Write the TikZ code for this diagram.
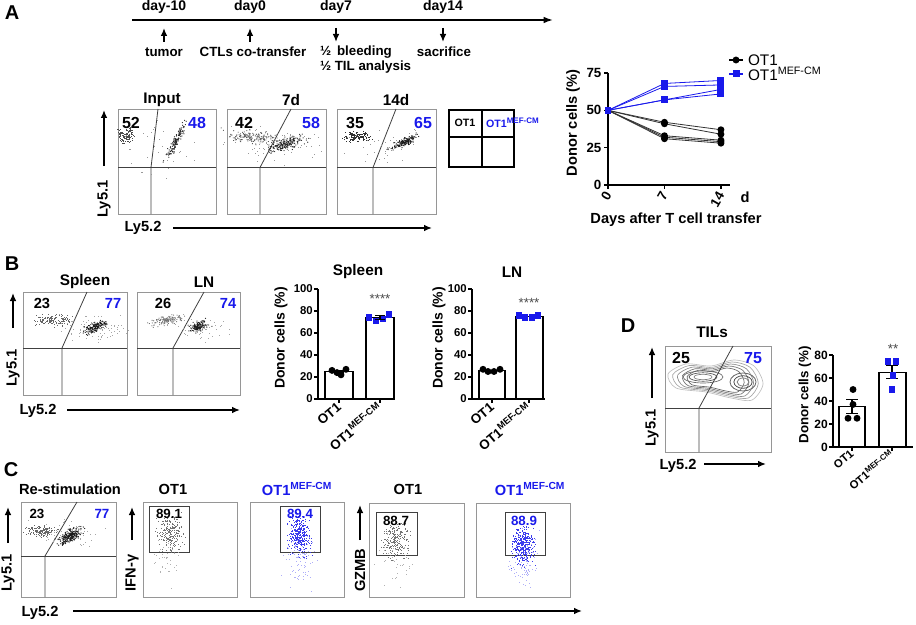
\documentclass[tikz,border=0pt]{standalone}
\usepackage{fontspec}
\setmainfont{Liberation Sans}
\usetikzlibrary{arrows.meta}

\definecolor{cmblue}{RGB}{25,25,235}
\definecolor{boxgray}{RGB}{150,150,150}

\newcommand\fsz[1]{\fontsize{#1}{#1}\selectfont\bfseries}
\newcommand\mefcm{OT1\textsuperscript{MEF-CM}}

% random dot cloud: cx, cy, sx, sy, angle, count, colour
\newcommand\dotcloud[7]{%
  \begin{scope}[shift={(#1,#2)}, rotate=#5]
    \foreach \k in {1,...,#6}{
      \pgfmathsetmacro\du{(rand+rand+rand)*#3}
      \pgfmathsetmacro\dv{(rand+rand+rand)*#4}
      \fill[#7] (\du,\dv) rectangle ++(0.9,0.9);
    }
  \end{scope}}

\tikzset{
  fbox/.style={draw=boxgray, line width=0.6pt},
  gate/.style={draw=black!75, line width=0.6pt},
  axarr/.style={line width=1.1pt, -{Latex[length=6pt, width=5pt]}},
  axis/.style={line width=0.9pt},
  bar/.style={draw, line width=1pt, fill=white},
  panel/.style={font=\fsz{15}},
  ttl/.style={font=\fsz{11.5}},
  num/.style={font=\fsz{12}},
  cnum/.style={font=\fsz{10}},
  tick/.style={font=\fsz{8.5}},
  ylbl/.style={font=\fsz{10.5}, rotate=90},
  barlbl/.style={font=\fsz{10}, rotate=40, anchor=east},
}

\begin{document}
\begin{tikzpicture}[x=0.75pt, y=-0.75pt, every node/.style={inner sep=0pt, outer sep=0pt}]
\pgfmathsetseed{4217}
\useasboundingbox (0,0) rectangle (916,624);

% ===================== Panel A =====================
\node[panel] (labA) at (12,13) {A};

% --- time line ---
\coordinate (tl0) at (132,20);
\coordinate (tl1) at (553,20);
\draw[line width=1.3pt, -{Latex[length=7pt, width=5pt]}] (tl0) -- (tl1);
\foreach \x/\d [count=\i] in {164/day-10, 250/day0, 336/day7, 443/day14}
  \node[font=\fsz{10.5}] (day\i) at (\x,7) {\d};
\draw[axarr] (164,42) -- (164,28);
\draw[axarr] (250,42) -- (250,28);
\draw[axarr] (336,28) -- (336,42);
\draw[axarr] (443,28) -- (443,42);
\node[font=\fsz{10}] (tumor) at (164,52) {tumor};
\node[font=\fsz{10}] (ctl) at (253,52) {CTLs co-transfer};
\node[font=\fsz{10}, anchor=west] (bleed) at (320,52) {½ \,bleeding};
\node[font=\fsz{10}, anchor=west] (til) at (320,67) {½ TIL analysis};
\node[font=\fsz{10}] (sac) at (444,52) {sacrifice};

% --- flow plots ---
\foreach \xa/\xb/\xv/\xt in {118/216/151/158, 227/326/260/291, 337/436/373/396}{
  \draw[fbox] (\xa,109) rectangle (\xb,214);
  \draw[gate] (\xa,167.5) -- (\xb,167.5);
  \draw[gate] (\xv,214) -- (\xv,167.5) -- (\xt,109);
}
% Input
\dotcloud{126}{135}{4}{4}{0}{130}{black!70}
\dotcloud{175}{142}{9}{1.8}{62}{140}{black!85}
\dotcloud{160}{150}{18}{14}{0}{30}{black!40}
% 7d
\dotcloud{252}{137}{12}{3}{-5}{170}{black!65}
\dotcloud{286}{143}{9}{2.7}{18}{220}{black!85}
\dotcloud{275}{145}{22}{8}{0}{60}{black!40}
% 14d
\dotcloud{357}{136}{6}{2.2}{0}{140}{black!80}
\dotcloud{404}{142}{7}{1.8}{25}{170}{black!90}
\dotcloud{385}{145}{18}{9}{0}{40}{black!40}

\node[ttl] (inA) at (162,100) {Input};
\node[ttl] (d7A) at (291,100) {7d};
\node[ttl] (d14A) at (396,100) {14d};
\node[num] at (131,123) {52};
\node[num, cmblue] at (197,123) {48};
\node[num] at (244,123) {42};
\node[num, cmblue] at (311,123) {58};
\node[num] at (355,123) {35};
\node[num, cmblue] at (423,123) {65};

% axes of the flow plots
\draw[axarr] (104,166) -- (104,110);
\node[ylbl, font=\fsz{11}] (ly51A) at (104,199) {Ly5.1};
\node[font=\fsz{11}] (ly52A) at (143,228) {Ly5.2};
\draw[axarr] (173,228) -- (432,228);

% --- legend grid ---
\draw[line width=1pt] (449,110) rectangle (514,167);
\draw[line width=1pt] (482,110) -- (482,167) (449,137) -- (514,137);
\node[font=\fsz{8}] (gOT1) at (465,123) {OT1};
\node[font=\fsz{8}, cmblue, anchor=west] (gMEF) at (486,123) {\mefcm};

% --- donor cells over time ---
\begin{scope}[shift={(608,185)}, x=6.05pt, y=1.12pt]
  \draw[axis] (0,75) -- (0,0) -- (15.1,0);
  \foreach \v in {0,25,50,75}{
    \draw[axis] (0,\v) -- ++(-3pt,0);
    \node[font=\fsz{10}, anchor=east] at ([xshift=-5pt]0,\v) {\v};
  }
  \foreach \d in {0,7,14}{
    \draw[axis] (\d,0) -- ++(0,-3pt);
    \node[font=\fsz{10}, rotate=60, anchor=east] at ([yshift=-6pt]\d,0) {\d};
  }
  \foreach \a/\b in {42/37, 41/34, 33/30, 32/29, 31/28}{
    \draw[black!80, line width=0.6pt] (0,50) -- (7,\a) -- (14,\b);
    \fill (7,\a) circle (2.6pt) (14,\b) circle (2.6pt);
  }
  \foreach \a/\b in {68/70, 66/67, 57/64, 57/61}{
    \draw[cmblue, line width=0.6pt] (0,50) -- (7,\a) -- (14,\b);
    \fill[cmblue] ([shift={(-2.6pt,-2.6pt)}]7,\a) rectangle ++(5.2pt,5.2pt);
    \fill[cmblue] ([shift={(-2.6pt,-2.6pt)}]14,\b) rectangle ++(5.2pt,5.2pt);
  }
  \fill[cmblue] ([shift={(-2.6pt,-2.6pt)}]0,50) rectangle ++(5.2pt,5.2pt);
\end{scope}
\node[font=\fsz{11}] (dunit) at (745,197) {d};
\node[font=\fsz{11}] (dayslbl) at (676,220) {Days after T cell transfer};
\node[ylbl, font=\fsz{11}] (donA) at (573,123) {Donor cells (\%)};
% legend
\draw[line width=0.8pt] (729,60) -- (743,60);
\fill (736,60) circle (2.6pt);
\draw[cmblue, line width=0.8pt] (729,74) -- (743,74);
\fill[cmblue] (732.5,70.5) rectangle (739.5,77.5);
\node[font=\fontsize{11.5}{12}\selectfont, anchor=west] (legOT1) at (748,60) {OT1};
\node[font=\fontsize{11.5}{12}\selectfont, anchor=west] (legMEF) at (748,74) {\mefcm};

% ===================== Panel B =====================
\node[panel] (labB) at (12,264) {B};
\foreach \xa/\xb/\xv/\xt in {23/127/62/87, 137/240/173/204}{
  \draw[fbox] (\xa,292) rectangle (\xb,395);
  \draw[gate] (\xa,348) -- (\xb,348);
  \draw[gate] (\xv,395) -- (\xv,348) -- (\xt,292);
}
\dotcloud{52}{320}{9}{2.5}{0}{140}{black!60}
\dotcloud{95}{327}{5.5}{2.2}{22}{180}{black!90}
\dotcloud{95}{328}{18}{7}{0}{90}{black!35}
\dotcloud{167}{320}{8}{2}{8}{130}{black!55}
\dotcloud{198}{326}{4.5}{2.2}{22}{150}{black!90}
\dotcloud{200}{327}{14}{6}{0}{60}{black!35}
\node[ttl] (spB) at (85,282) {Spleen};
\node[ttl] (lnB) at (204,282) {LN};
\node[num, font=\fsz{11}] at (42,303) {23};
\node[num, font=\fsz{11}, cmblue] at (113,303) {77};
\node[num, font=\fsz{11}] at (163,303) {26};
\node[num, font=\fsz{11}, cmblue] at (228,303) {74};
\draw[axarr] (13,328) -- (13,293);
\node[ylbl, font=\fsz{11}] (ly51B) at (13,368) {Ly5.1};
\node[font=\fsz{11}] (ly52B) at (38,411) {Ly5.2};
\draw[axarr] (67,410) -- (240,410);

% --- spleen bars ---
\node[ttl] (spT) at (358,272) {Spleen};
\node[ylbl] (donSp) at (281,338) {Donor cells (\%)};
\begin{scope}[shift={(318,399)}, y=0.825pt]
  \draw[axis] (0,100) -- (0,0) -- (77,0);
  \foreach \v in {0,20,...,100}{
    \draw[axis] (0,\v) -- ++(-3pt,0);
    \node[tick, anchor=east] at ([xshift=-4pt]0,\v) {\v};
  }
  \draw[bar] (7,0) rectangle (35,25);
  \draw[bar] (48,0) rectangle (76,74);
  \draw[axis] (21,0) -- ++(0,-3pt) (62,0) -- ++(0,-3pt);
  \foreach \x/\v in {14/26, 19/24, 23/22, 28/27} \fill (\x,\v) circle (2.6pt);
  \foreach \x/\v in {51/74, 58/71, 65/73, 71/77}
    \fill[cmblue] ([shift={(-2.4pt,-2.4pt)}]\x,\v) rectangle ++(4.8pt,4.8pt);
  \draw[line width=0.8pt] (16,24) -- (26,24) (21,23) -- (21,26) (16,26) -- (26,26);
  \draw[line width=0.8pt] (57,72.5) -- (67,72.5) (62,72.5) -- (62,75.5) (57,75.5) -- (67,75.5);
  \node[font=\fontsize{10}{10}\selectfont, black!70] at (62,91) {****};
  \node[barlbl] at ([yshift=-5pt]21,0) {OT1};
  \node[barlbl] at ([yshift=-5pt]62,0) {\mefcm};
\end{scope}

% --- LN bars ---
\node[ttl] (lnT) at (512,272) {LN};
\node[ylbl] (donLN) at (439,338) {Donor cells (\%)};
\begin{scope}[shift={(472,399)}, y=0.825pt]
  \draw[axis] (0,100) -- (0,0) -- (73,0);
  \foreach \v in {0,20,...,100}{
    \draw[axis] (0,\v) -- ++(-3pt,0);
    \node[tick, anchor=east] at ([xshift=-4pt]0,\v) {\v};
  }
  \draw[bar] (7,0) rectangle (33,26);
  \draw[bar] (44,0) rectangle (71,75);
  \draw[axis] (20,0) -- ++(0,-3pt) (57,0) -- ++(0,-3pt);
  \foreach \x/\v in {11/27, 16/25, 22/25, 28/27} \fill (\x,\v) circle (2.6pt);
  \foreach \x/\v in {47/76, 53/74, 60/74, 66/76}
    \fill[cmblue] ([shift={(-2.4pt,-2.4pt)}]\x,\v) rectangle ++(4.8pt,4.8pt);
  \node[font=\fontsize{10}{10}\selectfont, black!70] at (57,87) {****};
  \node[barlbl] at ([yshift=-5pt]20,0) {OT1};
  \node[barlbl] at ([yshift=-5pt]57,0) {\mefcm};
\end{scope}

% ===================== Panel C =====================
\node[panel] (labC) at (11,470) {C};
% re-stimulation
\draw[fbox] (21,502) rectangle (116,597);
\draw[gate] (21,556) -- (116,556);
\draw[gate] (45,597) -- (45,556) -- (77,502);
\dotcloud{40}{531}{7}{2.5}{0}{160}{black!60}
\dotcloud{70}{535}{6}{2.6}{30}{260}{black!90}
\dotcloud{65}{535}{16}{7}{0}{60}{black!35}
\node[ttl, font=\fsz{11}] (rest) at (70,489) {Re-stimulation};
\node[cnum] at (37,514) {23};
\node[cnum, cmblue] at (102,514) {77};
\draw[axarr] (8,543) -- (8,507);
\node[ylbl, font=\fsz{11}] (ly51C) at (8,573) {Ly5.1};

% IFN-gamma
\draw[axarr] (132,540) -- (132,507);
\node[ylbl, font=\fsz{11}] (ifn) at (132,573) {IFN-γ};
\draw[fbox] (143,502) rectangle (237,597);
\draw[gate] (149,506) rectangle (189,552);
\dotcloud{170}{533}{6}{9}{0}{220}{black!55}
\dotcloud{168}{560}{7}{12}{0}{40}{black!30}
\node[cnum] at (169,514) {89.1};
\node[ttl, font=\fsz{11}] (ifnOT1) at (173,489) {OT1};
\draw[fbox] (250,502) rectangle (344,597);
\draw[gate] (280,506) rectangle (320,552);
\dotcloud{299}{535}{5}{9}{0}{380}{cmblue!85}
\dotcloud{299}{560}{7}{13}{0}{90}{cmblue!35}
\node[cnum, cmblue] at (300,514) {89.4};
\node[ttl, font=\fsz{11}, cmblue] (ifnMEF) at (297,489) {\mefcm};

% GZMB
\draw[axarr] (360,540) -- (360,505);
\node[ylbl, font=\fsz{11}] (gzmb) at (360,570) {GZMB};
\draw[fbox] (369,503) rectangle (464,597);
\draw[gate] (376,512) rectangle (417,555);
\dotcloud{396}{540}{6}{8}{0}{220}{black!55}
\dotcloud{395}{560}{8}{12}{0}{40}{black!30}
\node[cnum] at (396,521) {88.7};
\node[ttl, font=\fsz{11}] (gzOT1) at (408,489) {OT1};
\draw[fbox] (476,503) rectangle (570,597);
\draw[gate] (505,512) rectangle (545,555);
\dotcloud{523}{545}{5}{9}{0}{380}{cmblue!85}
\dotcloud{523}{560}{7}{12}{0}{90}{cmblue!35}
\node[cnum, cmblue] at (524,521) {88.9};
\node[ttl, font=\fsz{11}, cmblue] (gzMEF) at (530,489) {\mefcm};

\node[font=\fsz{11}] (ly52C) at (40,613) {Ly5.2};
\draw[axarr] (73,611) -- (582,611);

% ===================== Panel D =====================
\node[panel] (labD) at (628,326) {D};
\node[ttl] (tils) at (712,332) {TILs};
\draw[fbox] (665,346) rectangle (771,452);
\begin{scope}[shift={(716,380)}]
  \foreach \s/\c in {1.0/black!25, 0.9/black!35, 0.8/black!45, 0.7/black!55, 0.6/black!60}
    \draw[\c, line width=0.5pt, scale=\s] plot[smooth cycle] coordinates
      {(-48,-6) (-30,-16) (-5,-14) (18,-20) (38,-14) (47,4) (36,20) (15,18) (-10,12) (-40,8)};
\end{scope}
\foreach \r/\c in {1/black!60, 0.7/black!70, 0.45/black!50}{
  \draw[\c, line width=0.5pt] (703,377) ellipse ({20*\r} and {6*\r});
  \draw[\c, line width=0.6pt] (743,382) ellipse ({13*\r} and {9*\r});
}
\draw[gate] (665,408) -- (771,408);
\draw[gate] (699,452) -- (699,408) -- (733,346);
\node[num] at (681,358) {25};
\node[num, cmblue] at (753,358) {75};
\draw[axarr] (652,398) -- (652,347);
\node[ylbl, font=\fsz{11}] (ly51D) at (652,428) {Ly5.1};
\node[font=\fsz{11}] (ly52D) at (678,466) {Ly5.2};
\draw[axarr] (704,464) -- (766,464);

% --- TIL bars ---
\node[ylbl, font=\fsz{10}] (donD) at (805,395) {Donor cells (\%)};
\begin{scope}[shift={(833,447)}, y=0.8625pt]
  \draw[axis] (0,80) -- (0,0) -- (80,0);
  \foreach \v in {0,20,...,80}{
    \draw[axis] (0,\v) -- ++(-3pt,0);
    \node[tick, font=\fsz{9}, anchor=east] at ([xshift=-4pt]0,\v) {\v};
  }
  \draw[bar] (6,0) rectangle (32,35);
  \draw[bar] (46,0) rectangle (73,65);
  \draw[axis] (19,0) -- ++(0,-3pt) (59,0) -- ++(0,-3pt);
  \draw[line width=0.8pt] (13,29) -- (25,29) (19,29) -- (19,41) (13,41) -- (25,41);
  \draw[line width=0.8pt] (53,59.5) -- (65,59.5) (59,59.5) -- (59,70.5) (53,70.5) -- (65,70.5);
  \foreach \x/\v in {20/50, 20/37, 15/25, 24/25} \fill (\x,\v) circle (2.6pt);
  \foreach \x/\v in {55/74, 63/74, 60/62, 59/50}
    \fill[cmblue] ([shift={(-2.6pt,-2.6pt)}]\x,\v) rectangle ++(5.2pt,5.2pt);
  \node[font=\fontsize{10}{10}\selectfont, black!70] at (60,85) {**};
  \node[barlbl, font=\fsz{8.5}] at ([yshift=-4pt]19,0) {OT1};
  \node[barlbl, font=\fsz{8.5}] at ([yshift=-4pt]59,0) {\mefcm};
\end{scope}

\end{tikzpicture}
\end{document}
